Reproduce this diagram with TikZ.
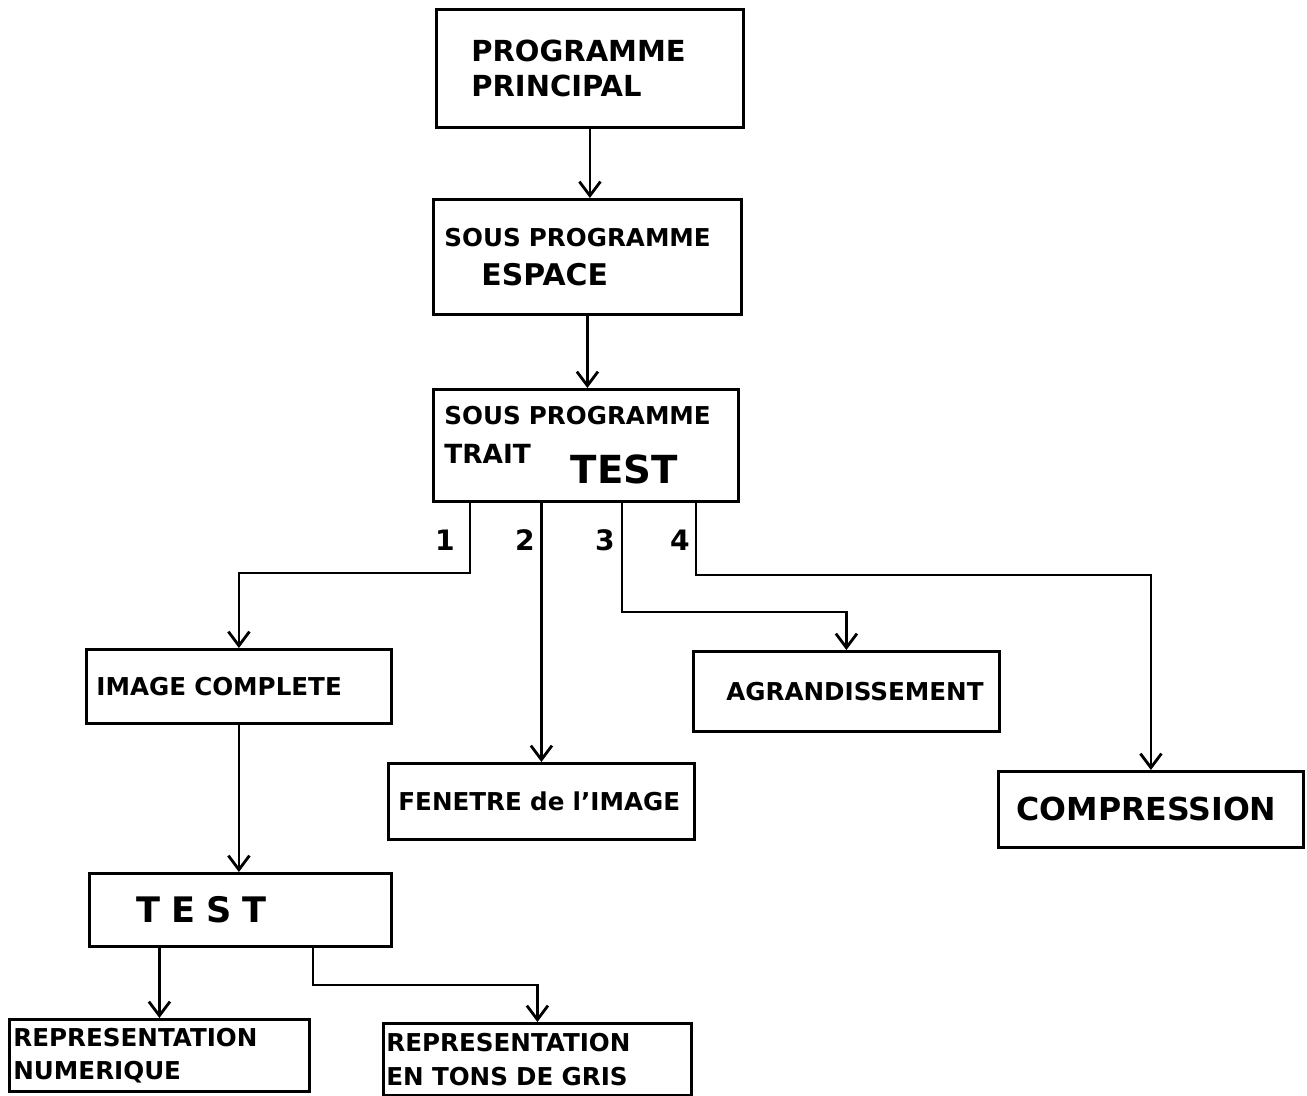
\documentclass[tikz,border=0pt]{standalone}
\usepackage{fontspec}
\setmainfont{DejaVu Sans}
\usetikzlibrary{positioning,arrows.meta}

\tikzset{
  box/.style={draw,line width=1.6pt,inner sep=0pt,anchor=north west,align=left,font=\bfseries\fontsize{14}{22}\selectfont},
  arr/.style={line width=1.6pt,-{Straight Barb[length=8pt,width=12pt]}},
  num/.style={font=\bfseries\fontsize{16}{16}\selectfont}
}

\begin{document}
\begin{tikzpicture}[x=0.2mm,y=-0.2mm]
	\useasboundingbox (0,0) rectangle (1307,1096);
	% main chain
	\node[box,text width=61.4mm,minimum height=23.6mm,font=\bfseries\fontsize{16.5}{20}\selectfont] (prog) at (435,8) {\hspace*{7mm}PROGRAMME\\\hspace*{7mm}PRINCIPAL};
	\node[box,text width=61.6mm,minimum height=23mm] (esp) at (432,198) {\hspace*{2.2mm}SOUS PROGRAMME\\\hspace*{9.6mm}{\fontsize{17}{20}\selectfont ESPACE}\\[-1mm]};
	\node[box,text width=61mm,minimum height=22.4mm] (trait) at (432,388) {\hspace*{2.2mm}SOUS PROGRAMME\\\hspace*{2.2mm}{\fontsize{15}{20}\selectfont TRAIT}\hspace{8mm}\raisebox{-4mm}{\fontsize{22}{22}\selectfont TEST}};
	% the four cases
	\node[box,text width=61mm,minimum height=14.8mm] (img) at (85,648) {\hspace*{2mm}IMAGE COMPLETE};
	\node[box,text width=61.2mm,minimum height=15.2mm] (fen) at (387,762) {\hspace*{2mm}FENETRE de l'IMAGE};
	\node[box,text width=61.2mm,minimum height=16mm] (agr) at (692,650) {\hspace*{6.6mm}AGRANDISSEMENT};
	\node[box,text width=61mm,minimum height=15.2mm,font=\bfseries\fontsize{18}{20}\selectfont] (comp) at (997,770) {\hspace*{3.6mm}COMPRESSION};
	% image complete
	\node[box,text width=60.4mm,minimum height=14.6mm,font=\bfseries\fontsize{20}{22}\selectfont] (test) at (88,872) {\hspace*{9.4mm}T\kern2.2mm E\kern2.2mm S\kern2.2mm T};
	\node[box,text width=60mm,minimum height=14.4mm,font=\bfseries\fontsize{14}{19}\selectfont] (repnum) at (8,1018) {\hspace*{0.8mm}REPRESENTATION\\\hspace*{0.8mm}NUMERIQUE};
	\node[box,text width=61.6mm,minimum height=14.4mm,font=\bfseries\fontsize{14}{19}\selectfont] (repgris) at (382,1022) {\hspace*{0.6mm}REPRESENTATION\\\hspace*{0.6mm}EN TONS DE GRIS};

	\coordinate (k1) at (470,573);
	\coordinate (k3) at (622,612);
	\coordinate (k4) at (696,575);
	\coordinate (k6) at (313,985);

	\draw[arr] (prog.south) -- (prog.south |- esp.north);
	\draw[arr] (esp.south) -- (esp.south |- trait.north);
	\draw[arr] (trait.south -| k1) -- (k1) -| (img.north);
	\draw[arr] (trait.south -| fen.north) -- (fen.north);
	\draw[arr] (trait.south -| k3) -- (k3) -| (agr.north);
	\draw[arr] (trait.south -| k4) -- (k4) -| (comp.north);
	\draw[arr] (img.south) -- (img.south |- test.north);
	\draw[arr] (test.south -| repnum.north) -- (repnum.north);
	\draw[arr] (test.south -| k6) -- (k6) -| (repgris.north);

	\node[num] (n1) at (445,540) {1};
	\node[num] (n2) at (525,540) {2};
	\node[num] (n3) at (605,540) {3};
	\node[num] (n4) at (680,540) {4};
\end{tikzpicture}
\end{document}
